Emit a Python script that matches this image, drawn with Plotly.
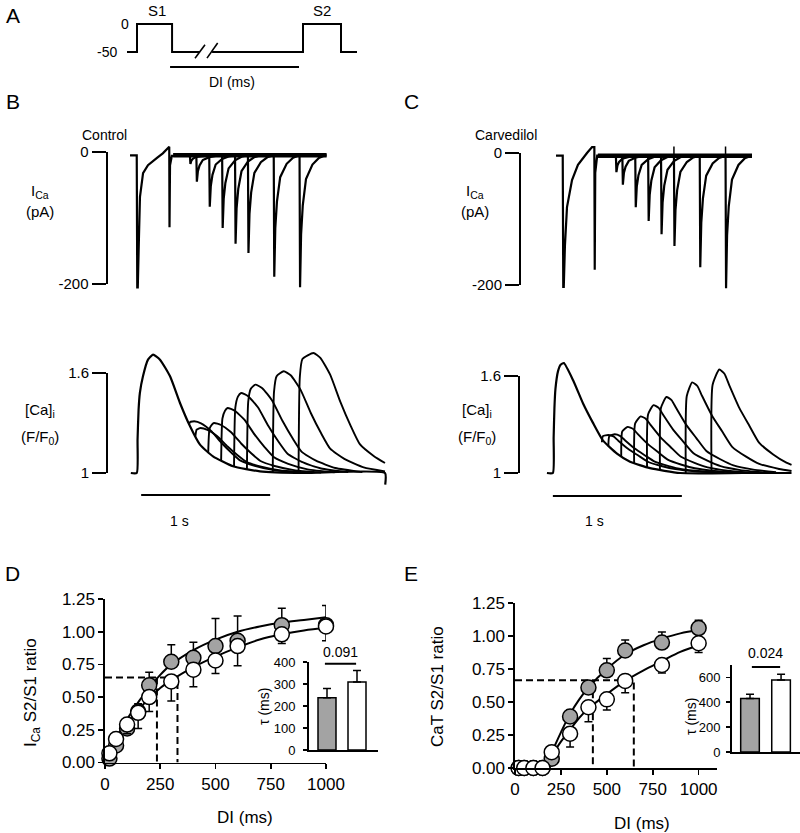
import plotly.graph_objects as go

FONT = "Arial, Liberation Sans, Helvetica, sans-serif"
W, H = 800, 833

# ---------------- DATA ----------------
# Panel A: voltage protocol (ms, mV)
PROTO_T = [0, 75, 75, 338, 338, 548, None, 638, 1320, 1320, 1605, 1605, 1725]
PROTO_V = [-50, -50, 0, 0, -50, -50, None, -50, -50, 0, 0, -50, -50]
BREAK_T = [510, 585, None, 600, 680]
BREAK_V = [-61, -37, None, -61, -34]
DI_BAR_T = [323, 1290]
DI_BAR_V = [-77, -77]

# Panel B (Control) I_Ca: S1 part (s, pA)
B_ICA_S1_T = [-0.054, -0.002, 0.002, 0.006, 0.015, 0.023, 0.047, 0.085, 0.155, 0.2, 0.25, 0.252, 0.256, 0.27, 1.47]
B_ICA_S1_V = [-5, -5, -205, -205, -130, -68, -32, -20, -9, -2, 8, -114, -20, -6, -5]
B_ICA_BASE_T = [0.28, 1.47]
B_ICA_BASE_V = [-5, -5]
ICA_ONSET = [0.41, 0.46, 0.56, 0.66, 0.76, 0.86, 1.06, 1.26]
ICA_REL_T = [0, 0.004, 0.012, 0.025, 0.05, 0.1, 0.15, 0.2]
B_ICA_S2 = [
    [-5, -18, -12.8, -9.9, -7.3, -5.9, -5.3, -5],
    [-5, -45, -29, -20.2, -12.2, -7.8, -5.8, -5],
    [-5, -83, -51.8, -34.6, -19, -10.5, -6.6, -5],
    [-5, -115, -71, -46.8, -24.8, -12.7, -7.2, -5],
    [-5, -139, -85.4, -55.9, -29.1, -14.4, -7.7, -5],
    [-5, -153, -93.8, -61.2, -31.6, -15.4, -8, -5],
    [-5, -189, -115.4, -74.9, -38.1, -17.9, -8.7, -5],
    [-5, -205, -125, -81, -41, -19, -9, -5],
]

# Panel B [Ca]i (s, F/F0)
B_CA_S1_T = [-0.04, 0.006, 0.012, 0.02, 0.03, 0.054, 0.093, 0.132, 0.186, 0.264, 0.341,
             0.419, 0.496, 0.597, 0.752, 0.961, 1.3, 1.93, 1.932]
B_CA_S1_V = [1.0, 1.0, 1.2, 1.38, 1.48, 1.58, 1.68, 1.71, 1.68, 1.58, 1.42,
             1.28, 1.17, 1.10, 1.04, 1.01, 1.0, 1.0, 0.93]
B_CA_S2_T = [
    [.41, .42, .44, .45, .504, .58, .66, .74, .81, .92, 1.07, 1.28],
    [.46, .47, .49, .50, .554, .63, .71, .79, .86, .97, 1.12, 1.33],
    [.56, .57, .59, .605, .659, .735, .815, .895, .965, 1.075, 1.225, 1.435],
    [.66, .67, .69, .71, .764, .84, .92, 1.0, 1.07, 1.18, 1.33, 1.54],
    [.76, .77, .79, .815, .869, .945, 1.025, 1.105, 1.175, 1.285, 1.435, 1.645],
    [.86, .87, .89, .925, .979, 1.055, 1.135, 1.215, 1.285, 1.395, 1.545, 1.755],
    [1.06, 1.07, 1.09, 1.145, 1.199, 1.275, 1.355, 1.435, 1.505, 1.615, 1.765, 1.93],
    [1.26, 1.27, 1.29, 1.375, 1.429, 1.505, 1.585, 1.665, 1.735, 1.845, 1.93],
]
B_CA_S2_V = [
    [1.29, 1.306, 1.309, 1.31, 1.298, 1.254, 1.183, 1.121, 1.074, 1.043, 1.017, 1.003],
    [1.22, 1.26, 1.268, 1.27, 1.259, 1.221, 1.159, 1.105, 1.065, 1.038, 1.015, 1.003],
    [1.125, 1.265, 1.291, 1.30, 1.288, 1.246, 1.177, 1.117, 1.072, 1.042, 1.017, 1.003],
    [1.075, 1.327, 1.374, 1.39, 1.374, 1.32, 1.23, 1.152, 1.094, 1.055, 1.022, 1.004],
    [1.04, 1.392, 1.458, 1.48, 1.461, 1.394, 1.283, 1.187, 1.115, 1.067, 1.027, 1.005],
    [1.02, 1.428, 1.505, 1.53, 1.509, 1.435, 1.313, 1.207, 1.127, 1.074, 1.030, 1.005],
    [1.0, 1.488, 1.58, 1.61, 1.586, 1.50, 1.36, 1.238, 1.146, 1.085, 1.034, 1.01],
    [1.0, 1.576, 1.684, 1.72, 1.691, 1.59, 1.425, 1.281, 1.173, 1.101, 1.06],
]
B_SCALE_T = [0.04, 1.04]
B_SCALE_V = [0.868, 0.868]

# Panel C (Carvedilol) I_Ca
C_ICA_S1_T = [-0.054, -0.002, 0.002, 0.006, 0.015, 0.031, 0.07, 0.116, 0.186, 0.225, 0.243, 0.246, 0.25, 0.265, 1.465]
C_ICA_S1_V = [-4, -4, -203, -203, -140, -82, -41, -18, 0, 9, 9, -177, -30, -4, -4]
C_ICA_BASE_T = [0.27, 1.465]
C_ICA_BASE_V = [-4, -4]
C_ICA_S2 = [
    [-4, -29, -19, -13.5, -8.5, -5.8, -4.5, -4],
    [-4, -48, -30.4, -20.7, -11.9, -7.1, -4.9, -4],
    [-4, -82, -50.8, -33.6, -18, -9.5, -5.6, -4],
    [-4, -103, -63.4, -41.6, -21.8, -10.9, -6, -4],
    [-4, -123, -75.4, -49.2, -25.4, -12.3, -6.4, -4],
    [-4, -141, -86.2, -56.1, -28.7, -13.6, -6.7, -4],
    [-4, -173, -105.4, -68.2, -34.4, -15.8, -7.4, -4],
    [-4, -205, -124.6, -80.4, -40.2, -18.1, -8, -4],
]
C_ICA_ARTIFACT_T = [0.86, 0.86, None, 1.26, 1.26]
C_ICA_ARTIFACT_V = [-4, 10, None, -4, 10]

# Panel C [Ca]i
C_CA_S1_T = [-0.016, 0.03, 0.036, 0.042, 0.05, 0.07, 0.09, 0.115, 0.186, 0.264, 0.341,
             0.419, 0.527, 0.628, 0.783, 1.016, 1.5, 1.88]
C_CA_S1_V = [1.0, 1.0, 1.22, 1.40, 1.52, 1.63, 1.67, 1.68, 1.575, 1.43, 1.31,
             1.20, 1.12, 1.07, 1.03, 1.0, 1.0, 1.0]
C_CA_S2_T = [
    [.41, .418, .46, .50, .537, .615, .692, .77, .878, .98, 1.134, 1.31],
    [.46, .468, .51, .55, .587, .665, .742, .82, .928, 1.03, 1.184, 1.36],
    [.56, .568, .61, .65, .687, .765, .842, .92, 1.028, 1.13, 1.284, 1.46],
    [.66, .668, .71, .75, .787, .865, .942, 1.02, 1.128, 1.23, 1.384, 1.56],
    [.76, .768, .81, .85, .887, .965, 1.042, 1.12, 1.228, 1.33, 1.484, 1.66],
    [.86, .868, .91, .95, .987, 1.065, 1.142, 1.22, 1.328, 1.43, 1.584, 1.76],
    [1.06, 1.068, 1.11, 1.15, 1.187, 1.265, 1.342, 1.42, 1.528, 1.63, 1.784, 1.88],
    [1.26, 1.268, 1.32, 1.36, 1.397, 1.475, 1.552, 1.63, 1.738, 1.84, 1.88],
]
C_CA_S2_V = [
    [1.19, 1.228, 1.235, 1.226, 1.2, 1.148, 1.108, 1.068, 1.042, 1.024, 1.01, 1.002],
    [1.165, 1.229, 1.24, 1.23, 1.204, 1.151, 1.11, 1.07, 1.043, 1.024, 1.011, 1.002],
    [1.10, 1.257, 1.285, 1.274, 1.242, 1.18, 1.131, 1.083, 1.051, 1.029, 1.013, 1.003],
    [1.06, 1.307, 1.35, 1.336, 1.298, 1.221, 1.161, 1.102, 1.063, 1.035, 1.015, 1.004],
    [1.035, 1.362, 1.42, 1.403, 1.357, 1.265, 1.193, 1.122, 1.076, 1.042, 1.018, 1.004],
    [1.02, 1.403, 1.47, 1.451, 1.40, 1.296, 1.216, 1.136, 1.085, 1.047, 1.021, 1.005],
    [1.0, 1.476, 1.56, 1.538, 1.476, 1.353, 1.258, 1.162, 1.101, 1.056, 1.025, 1.012],
    [1.0, 1.544, 1.64, 1.614, 1.544, 1.403, 1.294, 1.186, 1.115, 1.064, 1.05],
]
C_SCALE_T = [0.03, 1.03]
C_SCALE_V = [0.858, 0.858]

# Panel D: I_Ca S2/S1 ratio vs DI
D_DI = [20, 50, 100, 150, 200, 300, 400, 500, 600, 800, 1000]
D_CTRL = [0.03, 0.13, 0.26, 0.39, 0.59, 0.77, 0.80, 0.89, 0.93, 1.05, 1.05]
D_CTRL_ERR = [0.02, 0.04, 0.05, 0.06, 0.10, 0.13, 0.12, 0.21, 0.19, 0.13, 0.15]
D_CARV = [0.07, 0.18, 0.29, 0.38, 0.50, 0.62, 0.71, 0.78, 0.89, 0.98, 1.04]
D_CARV_ERR = [0.02, 0.04, 0.07, 0.12, 0.11, 0.15, 0.13, 0.10, 0.15, 0.07, 0.11]
D_FIT_DI = [10, 50, 100, 150, 200, 250, 300, 400, 500, 600, 700, 800, 900, 1000]
D_FIT_CTRL = [0.0, 0.18, 0.33, 0.46, 0.57, 0.67, 0.75, 0.86, 0.94, 1.00, 1.04, 1.07, 1.09, 1.11]
D_FIT_CARV = [0.02, 0.16, 0.29, 0.40, 0.49, 0.57, 0.63, 0.73, 0.81, 0.88, 0.94, 0.98, 1.01, 1.03]
D_HALF_LEVEL = 0.65
D_HALF_DI = [235, 328]

# Panel E: CaT S2/S1 ratio vs DI
E_DI = [20, 50, 100, 150, 200, 300, 400, 500, 600, 800, 1000]
E_CTRL = [0, 0, 0, 0, 0.07, 0.39, 0.61, 0.74, 0.89, 0.95, 1.06]
E_CTRL_ERR = [0, 0, 0, 0, 0.03, 0.05, 0.05, 0.09, 0.08, 0.08, 0.06]
E_CARV = [0, 0, 0, 0, 0.12, 0.26, 0.46, 0.52, 0.66, 0.78, 0.945]
E_CARV_ERR = [0, 0, 0, 0, 0.03, 0.10, 0.11, 0.08, 0.09, 0.06, 0.07]
E_FIT_CTRL_DI = [185, 250, 300, 350, 400, 500, 600, 700, 800, 900, 1000]
E_FIT_CTRL = [0.07, 0.27, 0.41, 0.52, 0.61, 0.75, 0.86, 0.93, 0.98, 1.02, 1.045]
E_FIT_CARV_DI = [195, 250, 300, 350, 400, 500, 600, 700, 800, 900, 1000]
E_FIT_CARV = [0.08, 0.20, 0.29, 0.38, 0.45, 0.56, 0.66, 0.74, 0.81, 0.88, 0.93]
E_HALF_LEVEL = 0.665
E_HALF_DI = [424, 647]

# Insets: time constant tau (ms)
GROUP_POS = [0, 1]
D_TAU = [237, 309]
D_TAU_ERR = [42, 52]
D_P = "0.091"
D_P_LINE = [-0.07, 0.97]
D_P_Y = 392
E_TAU = [430, 580]
E_TAU_ERR = [35, 45]
E_P = "0.024"
E_P_LINE = [0.06, 0.97]
E_P_Y = 684

GRAY = "#a3a3a3"

# ---------------- helpers ----------------
def xd(a, b):
    return [a / W, b / W]

def yd(top, bottom):
    return [1 - bottom / H, 1 - top / H]

def names(n):
    s = "" if n == 1 else str(n)
    return "xaxis" + s, "yaxis" + s, "x" + s, "y" + s

fig = go.Figure()
layout = {}
annotations = []

def hidden_axes(n, xdom, xrng, ydom, yrng):
    xk, yk, xr, yr = names(n)
    layout[xk] = dict(domain=xdom, range=xrng, visible=False, anchor=yr, fixedrange=True,
                      automargin=False)
    layout[yk] = dict(domain=ydom, range=yrng, visible=False, anchor=xr, fixedrange=True,
                      automargin=False)

def line(n, x, y, width=2.0, dash=None, shape="linear", smoothing=None):
    _, _, xr, yr = names(n)
    ld = dict(color="black", width=width, shape=shape)
    if dash:
        ld["dash"] = dash
    if smoothing is not None:
        ld["smoothing"] = smoothing
    fig.add_trace(go.Scatter(x=x, y=y, mode="lines", line=ld, xaxis=xr, yaxis=yr,
                             hoverinfo="skip", showlegend=False, connectgaps=False))

def scale_axis(n, xpx, ydom, yrng, tickvals, ticktext):
    xk, yk, xr, yr = names(n)
    layout[xk] = dict(domain=xd(xpx, xpx + 2), range=[0, 1], visible=False, anchor=yr,
                      automargin=False)
    layout[yk] = dict(domain=ydom, range=yrng, anchor=xr, showline=True, linecolor="black",
                      linewidth=2, ticks="outside", ticklen=14, tickwidth=2, tickcolor="black",
                      tickvals=tickvals, ticktext=ticktext, showgrid=False, zeroline=False,
                      automargin=False,
                      tickfont=dict(size=15, family=FONT, color="black"))
    fig.add_trace(go.Scatter(x=[0.5], y=[yrng[0]], mode="markers", marker=dict(opacity=0),
                             xaxis=xr, yaxis=yr, hoverinfo="skip", showlegend=False))

def ann(text, x, y, size=15, angle=0, xanchor="center", yanchor="middle"):
    annotations.append(dict(text=text, x=x / W, y=1 - y / H, xref="paper", yref="paper",
                            showarrow=False, textangle=angle, xanchor=xanchor, yanchor=yanchor,
                            font=dict(size=size, family=FONT, color="black")))

def axis_style(**kw):
    d = dict(showline=True, linecolor="black", linewidth=1.6, ticks="outside", ticklen=5,
             tickwidth=1.6, tickcolor="black", showgrid=False, zeroline=False,
             automargin=False, tickfont=dict(size=17, family=FONT, color="black"))
    d.update(kw)
    return d

# ---------------- Panel A ----------------
# 7.5 ms per pixel, t=0 at px 127 ; 0 mV at py 24, -50 mV at py 52
hidden_axes(1, xd(127 - 50 / 7.5, 127 + 1800 / 7.5), [-50, 1800],
            yd(24 - 40 * 0.56, 52 + 50 * 0.56), [-100, 40])
line(1, PROTO_T, PROTO_V, width=2)
line(1, BREAK_T, BREAK_V, width=1.6)
line(1, DI_BAR_T, DI_BAR_V, width=2)
ann("A", 13, 16, size=21)
ann("S1", 157, 10, size=15)
ann("S2", 322, 10, size=15)
ann("0", 125, 24, size=14)
ann("-50", 107, 52, size=14)
ann("DI (ms)", 232, 82, size=14)

# ---------------- Panel B ----------------
# I_Ca: t0 at px 137, 129 px/s ; 0 pA at py 152, 0.66 px/pA
hidden_axes(2, xd(137 - 0.06 * 129, 137 + 1.5 * 129), [-0.06, 1.5],
            yd(152 - 15 * 0.66, 152 + 215 * 0.66), [-215, 15])
line(2, B_ICA_S1_T, B_ICA_S1_V, width=2.2)
line(2, B_ICA_BASE_T, B_ICA_BASE_V, width=4.5)
for on, vals in zip(ICA_ONSET, B_ICA_S2):
    line(2, [on + r for r in ICA_REL_T], vals, width=2.2)
scale_axis(3, 107.5, yd(152, 284), [-200, 0], [0, -200], ["0", "-200"])

# [Ca]i: t0 at px 136 ; 1 at py 473, 166.7 px/unit
hidden_axes(4, xd(136 - 0.06 * 129, 136 + 1.96 * 129), [-0.06, 1.96],
            yd(473 - 0.76 * 166.7, 473 + 0.18 * 166.7), [0.82, 1.76])
line(4, B_CA_S1_T, B_CA_S1_V, width=2.2, shape="spline", smoothing=0.5)
for t, v in zip(B_CA_S2_T, B_CA_S2_V):
    line(4, t, v, width=1.9, shape="spline", smoothing=0.5)
line(4, B_SCALE_T, B_SCALE_V, width=2)
scale_axis(5, 108, yd(373, 473), [1, 1.6], [1, 1.6], ["1", "1.6"])

ann("B", 13, 101, size=21)
ann("Control", 104, 135, size=14)
ann("I<sub>Ca</sub>", 40, 191, size=15)
ann("(pA)", 40, 211, size=15)
ann("[Ca]<sub>i</sub>", 40, 411, size=15)
ann("(F/F<sub>0</sub>)", 40, 437, size=15)
ann("1 s", 179, 521, size=14)

# ---------------- Panel C ----------------
hidden_axes(6, xd(563 - 0.06 * 129, 563 + 1.5 * 129), [-0.06, 1.5],
            yd(153 - 15 * 0.66, 153 + 215 * 0.66), [-215, 15])
line(6, C_ICA_S1_T, C_ICA_S1_V, width=2.2)
line(6, C_ICA_BASE_T, C_ICA_BASE_V, width=4.5)
for on, vals in zip(ICA_ONSET, C_ICA_S2):
    line(6, [on + r for r in ICA_REL_T], vals, width=2.2)
line(6, C_ICA_ARTIFACT_T, C_ICA_ARTIFACT_V, width=1.5)
scale_axis(7, 521, yd(153, 285), [-200, 0], [0, -200], ["0", "-200"])

hidden_axes(8, xd(549 - 0.03 * 129, 549 + 1.9 * 129), [-0.03, 1.9],
            yd(473 - 0.72 * 161.7, 473 + 0.18 * 161.7), [0.82, 1.72])
line(8, C_CA_S1_T, C_CA_S1_V, width=2.2, shape="spline", smoothing=0.5)
for t, v in zip(C_CA_S2_T, C_CA_S2_V):
    line(8, t, v, width=1.9, shape="spline", smoothing=0.5)
line(8, C_SCALE_T, C_SCALE_V, width=2)
scale_axis(9, 520, yd(376, 473), [1, 1.6], [1, 1.6], ["1", "1.6"])

ann("C", 411, 101, size=21)
ann("Carvedilol", 506, 135, size=14)
ann("I<sub>Ca</sub>", 475, 191, size=15)
ann("(pA)", 475, 211, size=15)
ann("[Ca]<sub>i</sub>", 477, 411, size=15)
ann("(F/F<sub>0</sub>)", 477, 437, size=15)
ann("1 s", 594, 521, size=14)

# ---------------- Panels D / E ----------------
def ratio_panel(n, xdom, xrng, ydom, di, ctrl, ctrl_err, carv, carv_err,
                fit_c_x, fit_c_y, fit_v_x, fit_v_y, level, half_di):
    xk, yk, xr, yr = names(n)
    layout[xk] = axis_style(domain=xdom, range=xrng, anchor=yr,
                            tickvals=[0, 250, 500, 750, 1000])
    layout[yk] = axis_style(domain=ydom, range=[0, 1.25], anchor=xr,
                            tickvals=[0, 0.25, 0.5, 0.75, 1.0, 1.25], tickformat=".2f")
    dash = "7px,4px"
    line(n, [0, half_di[1], half_di[1]], [level, level, 0], width=2, dash=dash)
    line(n, [half_di[0], half_di[0]], [level, 0], width=2, dash=dash)
    line(n, fit_c_x, fit_c_y, width=2, shape="spline")
    line(n, fit_v_x, fit_v_y, width=2, shape="spline")
    zeros = [0] * len(di)
    fig.add_trace(go.Scatter(
        x=di, y=ctrl, mode="markers", xaxis=xr, yaxis=yr, cliponaxis=False,
        marker=dict(size=15, color=GRAY, line=dict(color="black", width=1.5)),
        error_y=dict(type="data", symmetric=False, array=ctrl_err, arrayminus=zeros,
                     color="black", thickness=1.5, width=4),
        hoverinfo="skip", showlegend=False))
    fig.add_trace(go.Scatter(
        x=di, y=carv, mode="markers", xaxis=xr, yaxis=yr, cliponaxis=False,
        marker=dict(size=15, color="white", line=dict(color="black", width=1.5)),
        error_y=dict(type="data", symmetric=False, array=zeros, arrayminus=carv_err,
                     color="black", thickness=1.5, width=4),
        hoverinfo="skip", showlegend=False))

def tau_inset(n, xdom, xrng, ydom, yrng, yticks, tau, err, pline, py, standoff):
    xk, yk, xr, yr = names(n)
    layout[xk] = dict(domain=xdom, range=xrng, anchor=yr, showline=True, linecolor="black",
                      linewidth=2, ticks="", showticklabels=False, showgrid=False,
                      zeroline=False, automargin=False)
    layout[yk] = axis_style(domain=ydom, range=yrng, anchor=xr, tickvals=yticks, linewidth=2,
                            ticklen=4, ticklabelstandoff=standoff,
                            tickfont=dict(size=13, family=FONT, color="black"))
    fig.add_trace(go.Bar(
        x=GROUP_POS, y=tau, width=0.6, xaxis=xr, yaxis=yr,
        marker=dict(color=[GRAY, "white"], line=dict(color="black", width=1.5)),
        error_y=dict(type="data", symmetric=False, array=err, arrayminus=[0, 0],
                     color="black", thickness=1.5, width=4),
        hoverinfo="skip", showlegend=False))
    line(n, pline, [py, py], width=2)

ratio_panel(10, xd(105, 326), [0, 1000], yd(599, 762.5), D_DI, D_CTRL, D_CTRL_ERR,
            D_CARV, D_CARV_ERR, D_FIT_DI, D_FIT_CTRL, D_FIT_DI, D_FIT_CARV,
            D_HALF_LEVEL, D_HALF_DI)
tau_inset(11, xd(309, 378), [-0.6, 1.7], yd(662, 750), [0, 400], [0, 100, 200, 300, 400],
          D_TAU, D_TAU_ERR, D_P_LINE, D_P_Y, 5)
ann("D", 12, 573, size=21)
ann("I<sub>Ca</sub> S2/S1 ratio", 32, 693, size=17, angle=-90)
ann("DI (ms)", 245, 817, size=17)
ann("\u03c4 (ms)", 264, 707, size=14, angle=-90)
ann(D_P, 340, 652, size=14)

ratio_panel(12, xd(515, 717), [0, 1100], yd(603, 768), E_DI, E_CTRL, E_CTRL_ERR,
            E_CARV, E_CARV_ERR, E_FIT_CTRL_DI, E_FIT_CTRL, E_FIT_CARV_DI, E_FIT_CARV,
            E_HALF_LEVEL, E_HALF_DI)
tau_inset(13, xd(732, 800), [-0.58, 1.61], yd(665, 752), [0, 700], [0, 200, 400, 600],
          E_TAU, E_TAU_ERR, E_P_LINE, E_P_Y, 3)
ann("E", 411, 573, size=21)
ann("CaT S2/S1 ratio", 437, 687, size=17, angle=-90)
ann("DI (ms)", 642, 823, size=17)
ann("\u03c4 (ms)", 691, 717, size=14, angle=-90)
ann(E_P, 765, 653, size=14)

fig.update_layout(
    template="none",
    width=W, height=H, autosize=False,
    margin=dict(l=0, r=0, t=0, b=0, pad=0, autoexpand=False),
    paper_bgcolor="white", plot_bgcolor="rgba(0,0,0,0)",
    font=dict(family=FONT, color="black"),
    showlegend=False, hovermode=False, barmode="overlay",
    annotations=annotations,
    **layout,
)
# the page body has a default 8px margin; remove it so the 800x833 figure fills the window
fig.write_html("out.html",
               config={"displayModeBar": False, "staticPlot": True},
               post_script="document.body.style.margin='0px';document.body.style.overflow='hidden';")
